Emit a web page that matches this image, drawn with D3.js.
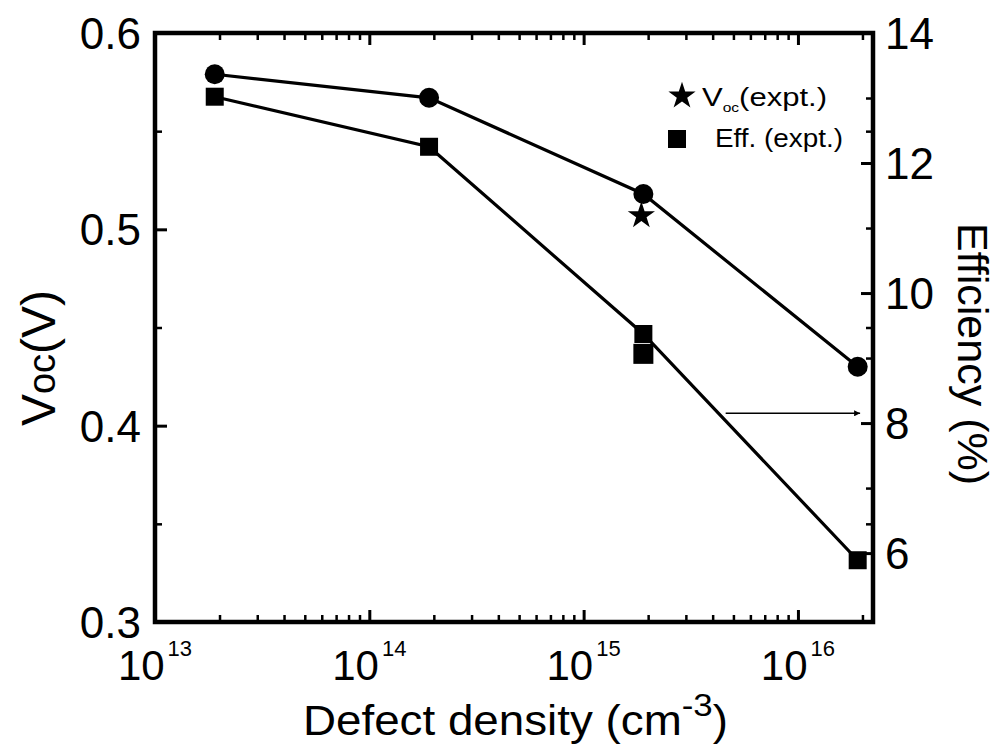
<!DOCTYPE html>
<html><head><meta charset="utf-8">
<script src="https://cdn.jsdelivr.net/npm/d3@7"></script>
<style>
body{margin:0;background:#fff}
text{font-family:Arial,"Liberation Sans",sans-serif;fill:#000}
</style></head>
<body><svg id="c" width="998" height="746"></svg>
<script>
// ---- data ----
const defectDensity = [1.9e13, 1.9e14, 1.9e15, 1.9e16];
const vocSim = [0.579, 0.567, 0.518, 0.430];
const effSim = [13.02, 12.25, 9.37, 5.89];
const vocExptX = [1.9e15];
const vocExpt = [0.507];
const effExptX = [1.9e15];
const effExpt = [9.08];
const xMajorTicks = [1e13, 1e14, 1e15, 1e16];
const xTickExponents = ["13", "14", "15", "16"];
const yLeftTicks = [0.3, 0.4, 0.5, 0.6];
const yLeftMinor = [0.35, 0.45, 0.55];
const yRightTicks = [6, 8, 10, 12, 14];
const yRightMinor = [7, 9, 11, 13];
const legendLabels = ["(expt.)", "Eff. (expt.)"];
const arrowFrom = [4.6e15, 8.15];
const arrowTo = [1.95e16, 8.15];

// ---- layout ----
const svg = d3.select("#c");
const L = 155, T = 33, R = 873, B = 622;
const x = d3.scaleLog().domain([1e13, 2.24e16]).range([L, R]);
const yL = d3.scaleLinear().domain([0.3, 0.6]).range([B, T]);
const yR = d3.scaleLinear().domain([4.94, 14]).range([B, T]);

const xMinor = [];
for (let n = 13; n <= 16; n++) for (let k = 2; k <= 9; k++) {
  const v = k * Math.pow(10, n);
  if (v <= x.domain()[1]) xMinor.push(v);
}

function styleAxis(g, w) {
  g.select(".domain").remove();
  g.selectAll(".tick line").attr("stroke", "#000").attr("stroke-width", w);
  g.selectAll(".tick text").remove();
}
// bottom
svg.append("g").attr("transform", `translate(0,${B})`)
  .call(d3.axisBottom(x).tickValues(xMajorTicks).tickSize(-12)).call(g => styleAxis(g, 3));
svg.append("g").attr("transform", `translate(0,${B})`)
  .call(d3.axisBottom(x).tickValues(xMinor).tickSize(-7)).call(g => styleAxis(g, 2.5));
// top
svg.append("g").attr("transform", `translate(0,${T})`)
  .call(d3.axisTop(x).tickValues(xMajorTicks).tickSize(-12)).call(g => styleAxis(g, 3));
svg.append("g").attr("transform", `translate(0,${T})`)
  .call(d3.axisTop(x).tickValues(xMinor).tickSize(-7)).call(g => styleAxis(g, 2.5));
// left
svg.append("g").attr("transform", `translate(${L},0)`)
  .call(d3.axisLeft(yL).tickValues(yLeftTicks).tickSize(-12)).call(g => styleAxis(g, 3));
svg.append("g").attr("transform", `translate(${L},0)`)
  .call(d3.axisLeft(yL).tickValues(yLeftMinor).tickSize(-7)).call(g => styleAxis(g, 2.5));
// right (efficiency + mirrored Voc)
svg.append("g").attr("transform", `translate(${R},0)`)
  .call(d3.axisRight(yR).tickValues(yRightTicks).tickSize(-12)).call(g => styleAxis(g, 3));
svg.append("g").attr("transform", `translate(${R},0)`)
  .call(d3.axisRight(yR).tickValues(yRightMinor).tickSize(-7)).call(g => styleAxis(g, 2.5));
svg.append("g").attr("transform", `translate(${R},0)`)
  .call(d3.axisRight(yL).tickValues(yLeftMinor).tickSize(-7)).call(g => styleAxis(g, 2.5));

// frame
svg.append("rect").attr("x", L).attr("y", T).attr("width", R - L).attr("height", B - T)
  .attr("fill", "none").attr("stroke", "#000").attr("stroke-width", 4.5);

// tick labels
svg.append("g").selectAll("text").data(yLeftTicks).join("text")
  .attr("x", L - 14).attr("y", d => yL(d)).attr("dy", "0.36em")
  .attr("text-anchor", "end").attr("font-size", 44).text(d => d.toFixed(1));
svg.append("g").selectAll("text").data(yRightTicks).join("text")
  .attr("x", R + 12).attr("y", d => yR(d)).attr("dy", "0.36em")
  .attr("text-anchor", "start").attr("font-size", 44).text(d => d);
const xl = svg.append("g").selectAll("text").data(xMajorTicks).join("text")
  .attr("x", d => x(d)).attr("y", 680).attr("text-anchor", "middle").attr("font-size", 42);
xl.append("tspan").text("10");
xl.append("tspan").attr("font-size", 22).attr("dx", 3).attr("dy", -24).text((d, i) => xTickExponents[i]);

// axis titles
const xt = svg.append("text").attr("x", 303).attr("y", 735).attr("font-size", 42)
  .attr("textLength", 425).attr("lengthAdjust", "spacingAndGlyphs");
xt.append("tspan").text("Defect density (cm");
xt.append("tspan").attr("font-size", 32).attr("dy", -19).text("-3");
xt.append("tspan").attr("dy", 19).text(")");

const yt = svg.append("text").attr("transform", "translate(55,358) rotate(-90)")
  .attr("text-anchor", "middle").attr("font-size", 48);
yt.append("tspan").text("V");
yt.append("tspan").attr("font-size", 38).text("oc");
yt.append("tspan").text("(V)");

svg.append("text").attr("transform", "translate(958,354) rotate(90)")
  .attr("text-anchor", "middle").attr("font-size", 43).text("Efficiency (%)");

// lines
const lineL = d3.line().x((d, i) => x(defectDensity[i])).y(d => yL(d));
const lineR = d3.line().x((d, i) => x(defectDensity[i])).y(d => yR(d));
svg.append("path").attr("d", lineL(vocSim)).attr("fill", "none").attr("stroke", "#000").attr("stroke-width", 3.2);
svg.append("path").attr("d", lineR(effSim)).attr("fill", "none").attr("stroke", "#000").attr("stroke-width", 3.2);

// markers
svg.append("g").selectAll("circle").data(vocSim).join("circle")
  .attr("cx", (d, i) => x(defectDensity[i])).attr("cy", d => yL(d)).attr("r", 10).attr("fill", "#000");
const sq = 18;
svg.append("g").selectAll("rect").data(effSim).join("rect")
  .attr("x", (d, i) => x(defectDensity[i]) - sq / 2).attr("y", d => yR(d) - sq / 2)
  .attr("width", sq).attr("height", sq).attr("fill", "#000");
svg.append("g").selectAll("rect").data(effExpt).join("rect")
  .attr("x", (d, i) => x(effExptX[i]) - sq / 2 - 1).attr("y", d => yR(d) - sq / 2)
  .attr("width", sq + 2).attr("height", sq + 2).attr("fill", "#000");
const star = d3.symbol().type(d3.symbolStar).size(230);
svg.append("g").selectAll("path").data(vocExpt).join("path")
  .attr("transform", (d, i) => `translate(${x(vocExptX[i]) - 2},${yL(d)})`)
  .attr("d", star()).attr("fill", "#000");

// arrow annotation
svg.append("defs").append("marker").attr("id", "ah").attr("viewBox", "0 0 10 10")
  .attr("refX", 10).attr("refY", 5).attr("markerWidth", 10).attr("markerHeight", 6)
  .attr("markerUnits", "userSpaceOnUse").attr("orient", "auto")
  .append("path").attr("d", "M0,0L10,5L0,10z").attr("fill", "#000");
svg.append("line").attr("x1", x(arrowFrom[0])).attr("y1", yR(arrowFrom[1]))
  .attr("x2", x(arrowTo[0])).attr("y2", yR(arrowTo[1]))
  .attr("stroke", "#000").attr("stroke-width", 1.6).attr("marker-end", "url(#ah)");

// legend
svg.append("path").attr("transform", "translate(682,96)").attr("d", star()).attr("fill", "#000");
const lg1 = svg.append("text").attr("x", 702).attr("y", 106).attr("font-size", 26)
  .attr("textLength", 125).attr("lengthAdjust", "spacingAndGlyphs");
lg1.append("tspan").text("V");
lg1.append("tspan").attr("font-size", 13).attr("dy", 6).text("oc");
lg1.append("tspan").attr("dy", -6).text(legendLabels[0]);
svg.append("rect").attr("x", 668).attr("y", 130).attr("width", 18).attr("height", 18).attr("fill", "#000");
svg.append("text").attr("x", 715).attr("y", 147).attr("font-size", 26)
  .attr("textLength", 128).attr("lengthAdjust", "spacingAndGlyphs").text(legendLabels[1]);
</script></body></html>
